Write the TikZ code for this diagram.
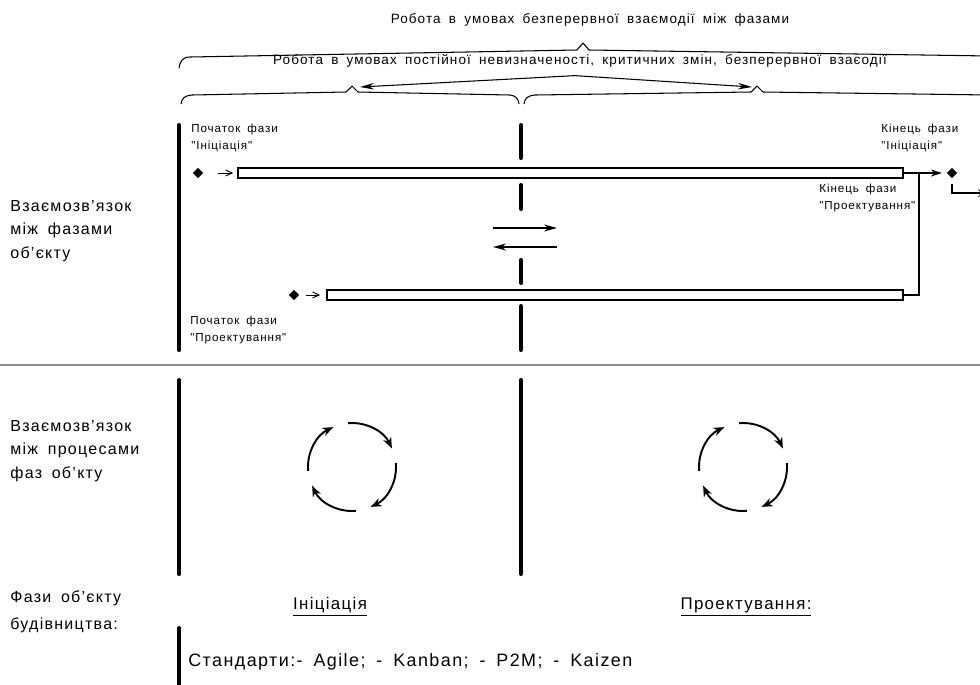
\documentclass[tikz,border=0pt]{standalone}
\usepackage{fontspec}
\setmainfont{Liberation Sans}[Ligatures=TeXOff, LetterSpace=8, WordSpace=1.7]
\usepackage{tikz}
\usetikzlibrary{calc,positioning,arrows.meta,shapes.geometric}

\begin{document}
\begin{tikzpicture}[x=0.02cm, y=-0.02cm, >=Stealth,
    thickln/.style={line width=2.3pt, line cap=round},
    phasebar/.style={draw, line width=1.1pt, fill=white, inner sep=0pt,
                     outer sep=0pt, minimum height=0.19cm},
    dmd/.style={diamond, fill=black, inner sep=0pt, minimum size=0.21cm},
    lbl/.style={font=\fontsize{6.6}{9.6}\selectfont, align=left, anchor=west,
                inner sep=0pt},
    side/.style={font=\fontsize{9.1}{13.4}\selectfont, align=left, anchor=west,
                 inner sep=0pt},
    brace/.style={line width=0.6pt, line join=round},
    thinarr/.style={line width=0.5pt, -{Straight Barb[length=1.3mm,width=1.2mm]}},
    cyc/.style={line width=1.1pt, -{Stealth[length=2.2mm,width=1.7mm]}}]
  \useasboundingbox (0,0) rectangle (980,684);
  \clip (0,0) rectangle (980,684);
  % zagolovky i dugy
  \node[font=\fontsize{7.7}{9}\selectfont] (ttl) at (590,20)
      {Робота в умовах безперервної взаємодії між фазами};
  \node[font=\fontsize{7.7}{9}\selectfont] (sub) at (580,61)
      {Робота в умовах постійної невизначеності, критичних змін, безперервної взаєодії};
  \draw[brace] (179,68) .. controls (180,62) and (182,57) .. (190,57)
      -- (577,50) -- (583,43) -- (589,50) -- (990,56);
  \draw[brace] (181,104) .. controls (182,98) and (184,96) .. (192,95)
      -- (346,92) -- (352,86) -- (358,92) -- (510,95)
      .. controls (516,96) and (518,98) .. (519,104);
  \draw[brace] (524,104) .. controls (525,98) and (527,96) .. (535,95)
      -- (751,92) -- (757,86) -- (763,92) -- (990,95);
  \coordinate (aL) at (360,87);
  \coordinate (aR) at (752,87);
  \foreach \p in {aL,aR}
    \draw[line width=0.6pt, -{Stealth[length=2.8mm,width=1.3mm]}]
        ($(sub.south)+(-5,2)$) -- (\p);
  % vertykalni linii
  \foreach \a/\b in {125/350, 380/574, 628/700}
    \draw[thickln] (179,\a) -- (179,\b);
  \foreach \a/\b in {125/158, 185/209, 260/283, 306/350, 380/574}
    \draw[thickln] (521,\a) -- (521,\b);
  \draw[black!45, line width=0.6pt] (0,365) -- (980,365);
  % fazy: smuhy, romby, strilky
  \node[phasebar, minimum width=13.3cm] (b1) at (570.5,173) {};
  \node[phasebar, minimum width=11.52cm] (b2) at (615,295) {};
  \node[dmd] (d1) at (198,173) {};
  \node[dmd] (d2) at (952,173) {};
  \node[dmd] (d3) at (294,295) {};
  \draw[thinarr, shorten <=0.28cm, shorten >=0.1cm] (d1) -- (b1.west);
  \draw[thinarr, shorten <=0.13cm, shorten >=0.14cm] (d3) -- (b2.west);
  \draw[line width=0.8pt, -{Stealth[length=2.2mm,width=1.4mm]}, shorten >=0.09cm]
      (b1.east) -- (d2);
  \coordinate (k1) at (919,173);
  \draw[line width=0.6pt] (k1) |- (b2.east);
  \coordinate (out1) at (988,193);
  \draw[line width=0.6pt, ->, shorten <=0.1cm] (d2.south) |- (out1);
  \node[lbl] (pI) at (191,138) {Початок фази\\"Ініціація"};
  \node[lbl] (kI) at (881,138) {Кінець фази\\"Ініціація"};
  \node[lbl] (kP) at (819,198) {Кінець фази\\"Проектування"};
  \node[lbl] (pP) at (190,330) {Початок фази\\"Проектування"};
  % vzaiemodiia mizh fazamy
  \coordinate (m1) at (493,228);
  \coordinate (m2) at (557,228);
  \coordinate (m3) at (557,247);
  \coordinate (m4) at (493,247);
  \draw[line width=0.8pt, -{Stealth[length=2.6mm,width=1.4mm]}] (m1) -- (m2);
  \draw[line width=0.8pt, -{Stealth[length=2.6mm,width=1.4mm]}] (m3) -- (m4);
  % kruhy procesiv
  \coordinate (c1) at (352,467);
  \coordinate (c2) at (743,467);
  \foreach \c in {c1,c2}
    \foreach \k in {0,...,3}
      \draw[cyc] ($(\c)+({-95+90*\k}:44)$)
          arc[start angle={-95+90*\k}, end angle={-25+90*\k}, radius=44];
  % pidpysy zliva
  \node[side] (s1) at (10,231) {Взаємозв’язок\\між фазами\\об’єкту};
  \node[side] (s2) at (10,451) {Взаємозв’язок\\між процесами\\фаз об’кту};
  \node[side, font=\fontsize{9.1}{15.6}\selectfont] (s3) at (10,612)
      {Фази об’єкту\\будівництва:};
  \node[font=\fontsize{9.6}{11}\selectfont] (f1) at (330,607) {\underline{Ініціація}};
  \node[font=\fontsize{9.6}{11}\selectfont] (f2) at (746,607) {\underline{Проектування:}};
  \node[side, font=\fontsize{10.2}{12}\selectfont] (st) at (188,662)
      {Стандарти:- Agile; - Kanban; - P2M; - Kaizen};
\end{tikzpicture}
\end{document}
